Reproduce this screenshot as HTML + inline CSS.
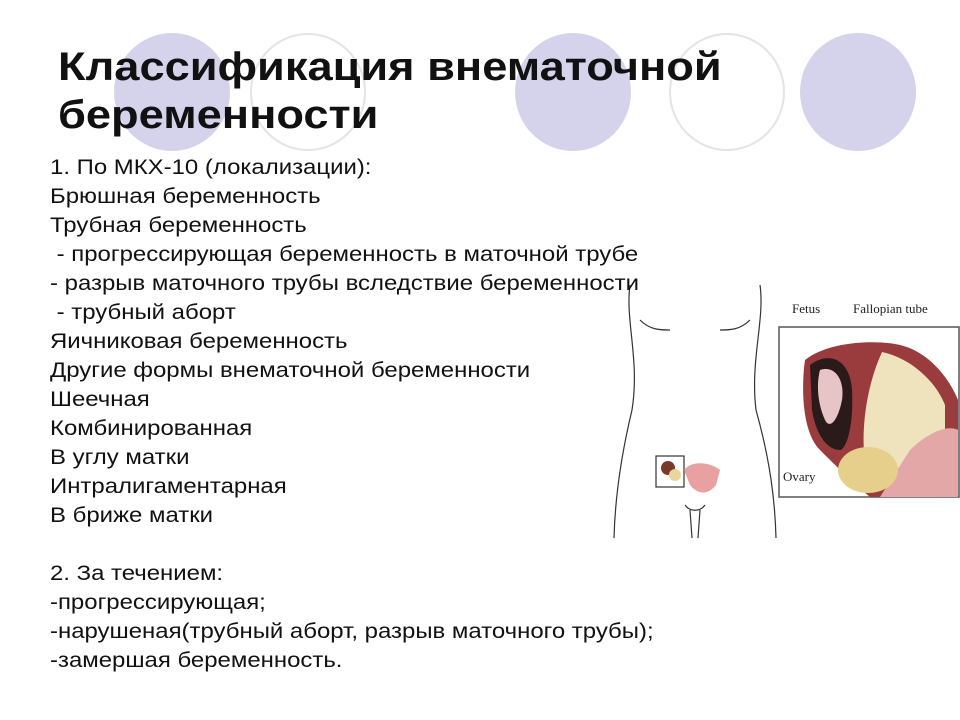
<!DOCTYPE html>
<html><head><meta charset="utf-8"><style>
body{margin:0;width:960px;height:720px;background:#fff;position:relative;overflow:hidden;font-family:"Liberation Sans",sans-serif}
.c{position:absolute;width:116px;height:118px;border-radius:50%;top:33px}
.f{background:#d5d3ec}
.o{border:2px solid #e4e4e8;box-sizing:border-box}
h1{position:absolute;left:58px;top:43px;margin:0;font-size:40px;line-height:48px;font-weight:bold;color:#111;transform:scaleX(1.13);transform-origin:0 0;white-space:nowrap}
.t{position:absolute;left:50px;top:153px;font-size:21px;line-height:29px;color:#111;white-space:pre;transform:scaleX(1.14);transform-origin:0 0}
</style></head><body>
<div class="c f" style="left:114px"></div>
<div class="c o" style="left:250px"></div>
<div class="c f" style="left:515px"></div>
<div class="c o" style="left:669px"></div>
<div class="c f" style="left:800px"></div>
<h1>Классификация внематочной<br>беременности</h1>
<svg style="position:absolute;left:580px;top:280px" width="380" height="260" viewBox="0 0 380 260">
<g fill="none" stroke="#333" stroke-width="1.2">
<path d="M50 5 C45 40 60 80 52 130 C40 180 35 220 34 258"/>
<path d="M180 5 C185 40 170 80 176 130 C190 180 195 220 196 258"/>
<path d="M60 40 C70 50 80 50 90 50"/><path d="M170 40 C160 50 150 50 140 50"/>
<path d="M105 225 C110 232 120 232 125 225"/>
<path d="M110 230 L112 258"/><path d="M120 230 L118 258"/>
<rect x="76" y="176" width="28" height="31"/>
</g>
<path d="M104 190 C112 180 130 182 140 190 L136 205 C128 215 118 215 110 205Z" fill="#e8a0a0"/>
<circle cx="88" cy="188" r="7" fill="#7a3a2a"/>
<circle cx="95" cy="195" r="6" fill="#e9d69a"/>
<rect x="199" y="47" width="180" height="170" fill="#fff" stroke="#555" stroke-width="1.5"/>
<path d="M225 80 C250 60 300 60 320 65 C350 72 370 100 378 120 L378 217 L290 217 C270 200 250 180 240 170 C220 150 222 100 225 80Z" fill="#9a3b3e"/>
<path d="M302 72 C330 78 355 100 365 125 L365 150 C345 150 330 180 310 200 L290 200 C280 180 280 120 302 72Z" fill="#efe3bd"/>
<path d="M330 170 C350 150 370 145 378 150 L378 217 L300 217Z" fill="#e3a7a8"/>
<path d="M230 85 C250 70 270 80 272 110 C274 150 265 170 260 170 C245 170 235 150 232 130Z" fill="#2a1a1a"/>
<path d="M240 90 C255 85 265 100 262 120 C258 140 250 150 245 140 C238 125 236 105 240 90Z" fill="#e7c4c6"/>
<ellipse cx="288" cy="190" rx="30" ry="23" fill="#e5cf8a"/>
<text x="212" y="33" font-family="Liberation Serif" font-size="13" fill="#222">Fetus</text>
<text x="273" y="33" font-family="Liberation Serif" font-size="13" fill="#222">Fallopian tube</text>
<text x="203" y="201" font-family="Liberation Serif" font-size="13" fill="#222">Ovary</text>
</svg>
<div class="t">1. По МКХ-10 (локализации):
Брюшная беременность
Трубная беременность
 - прогрессирующая беременность в маточной трубе
- разрыв маточного трубы вследствие беременности
 - трубный аборт
Яичниковая беременность
Другие формы внематочной беременности
Шеечная
Комбинированная
В углу матки
Интралигаментарная
В брижe матки

2. За течением:
-прогрессирующая;
-нарушеная(трубный аборт, разрыв маточного трубы);
-замершая беременность.</div>
</body></html>
